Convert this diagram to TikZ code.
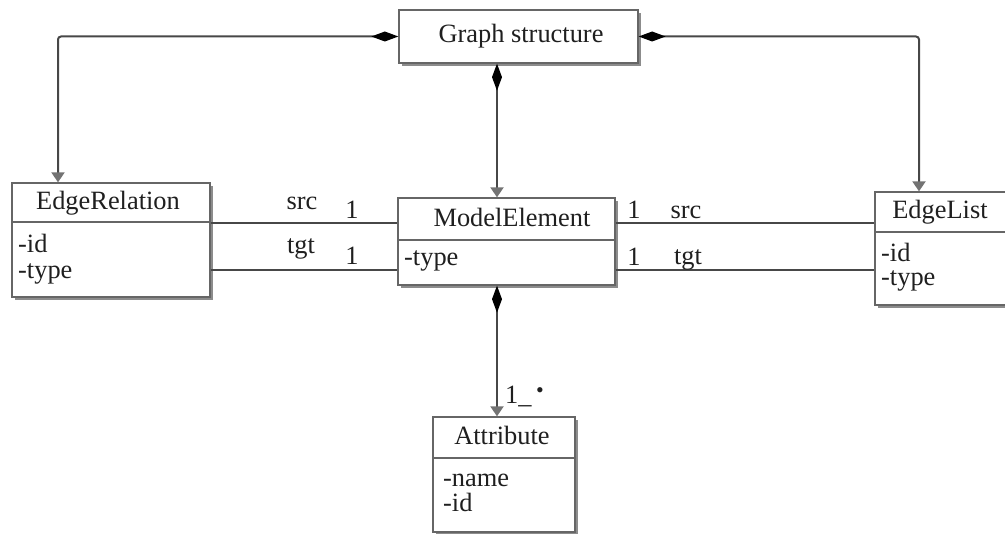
\documentclass[tikz,border=0pt]{standalone}
\usepackage{fontspec}
\setmainfont{Liberation Serif}
\usepackage{graphicx}
\usetikzlibrary{arrows.meta,shadows}
\begin{document}
\begin{tikzpicture}[x=1pt,y=-1pt,
  every node/.style={font=\fontsize{26.4}{30}\selectfont, inner sep=0pt, text=black!88},
  cbox/.style={draw=black!60, line width=1.3pt, fill=white, rectangle,
    drop shadow={shadow xshift=3pt, shadow yshift=-3pt, fill=black!45, opacity=1}},
  txt/.style={anchor=base},
  attr/.style={anchor=base west},
  divider/.style={draw=black!60, line width=1.3pt},
  conn/.style={draw=black!72, line width=2pt},
  comp/.style={conn, {Diamond[length=27pt,width=10pt,fill=black,color=black]}-{Triangle[length=10pt,width=13pt,fill=black!55,color=black!55]}},
  assoc/.style={conn}
]
\useasboundingbox (0,0) rectangle (1005,534);

% y levels and x levels
\coordinate (dER) at (0,222);
\coordinate (dME) at (0,240);
\coordinate (dEL) at (0,232);
\coordinate (dAT) at (0,458);
\coordinate (ysrc) at (0,223);
\coordinate (ytgt) at (0,270);
\coordinate (xl) at (58,0);
\coordinate (xr) at (919,0);
\coordinate (xm) at (497,0);

% Graph structure
\node[cbox, minimum width=239pt, minimum height=53pt] (gs) at (518.5,36.5) {};
\node[txt] (gst) at (521,43) {Graph structure};

% EdgeRelation
\node[cbox, minimum width=198pt, minimum height=114pt] (er) at (111,240) {};
\draw[divider] (er.west |- dER) -- (er.east |- dER);
\node[txt] (ert) at (108,210) {EdgeRelation};
\node[attr] (era1) at (18,253) {-id};
\node[attr] (era2) at (18,279) {-type};

% ModelElement
\node[cbox, minimum width=217pt, minimum height=87pt] (me) at (506.5,241.5) {};
\draw[divider] (me.west |- dME) -- (me.east |- dME);
\node[txt] (met) at (512,227) {ModelElement};
\node[attr] (mea) at (404,266) {-type};

% EdgeList
\node[cbox, minimum width=140pt, minimum height=113pt] (el) at (945,248.5) {};
\draw[divider] (el.west |- dEL) -- (el.east |- dEL);
\node[txt] (elt) at (940,219) {EdgeList};
\node[attr] (ela1) at (881,262) {-id};
\node[attr] (ela2) at (881,286) {-type};

% Attribute
\node[cbox, minimum width=142pt, minimum height=115pt] (at) at (504,474.5) {};
\draw[divider] (at.west |- dAT) -- (at.east |- dAT);
\node[txt] (att) at (502,445) {Attribute};
\node[attr] (ata1) at (443,487) {-name};
\node[attr] (ata2) at (443,512) {-id};

% associations
\draw[assoc] (er.east |- ysrc) -- (me.west |- ysrc);
\draw[assoc] (er.east |- ytgt) -- (me.west |- ytgt);
\draw[assoc] (me.east |- ysrc) -- (el.west |- ysrc);
\draw[assoc] (me.east |- ytgt) -- (el.west |- ytgt);

% compositions
\draw[comp, rounded corners=3pt] (gs.west) -| (er.north -| xl);
\draw[comp, rounded corners=3pt] (gs.east) -| (el.north -| xr);
\draw[comp] (gs.south -| xm) -- (me.north -| xm);
\draw[comp] (me.south -| xm) -- (at.north -| xm);

% labels
\node[txt] (l1) at (302,210) {src};
\node[txt] (l2) at (352,219) {1};
\node[txt] (l3) at (301,254) {tgt};
\node[txt] (l4) at (352,265) {1};
\node[txt] (r1) at (634,219) {1};
\node[txt] (r2) at (686,219) {src};
\node[txt] (r3) at (634,266) {1};
\node[txt] (r4) at (688,265) {tgt};
\node[anchor=base west] (m1) at (505,404) {1\_\,\raisebox{6pt}{\fontsize{22}{22}\selectfont •}};
\end{tikzpicture}
\end{document}
